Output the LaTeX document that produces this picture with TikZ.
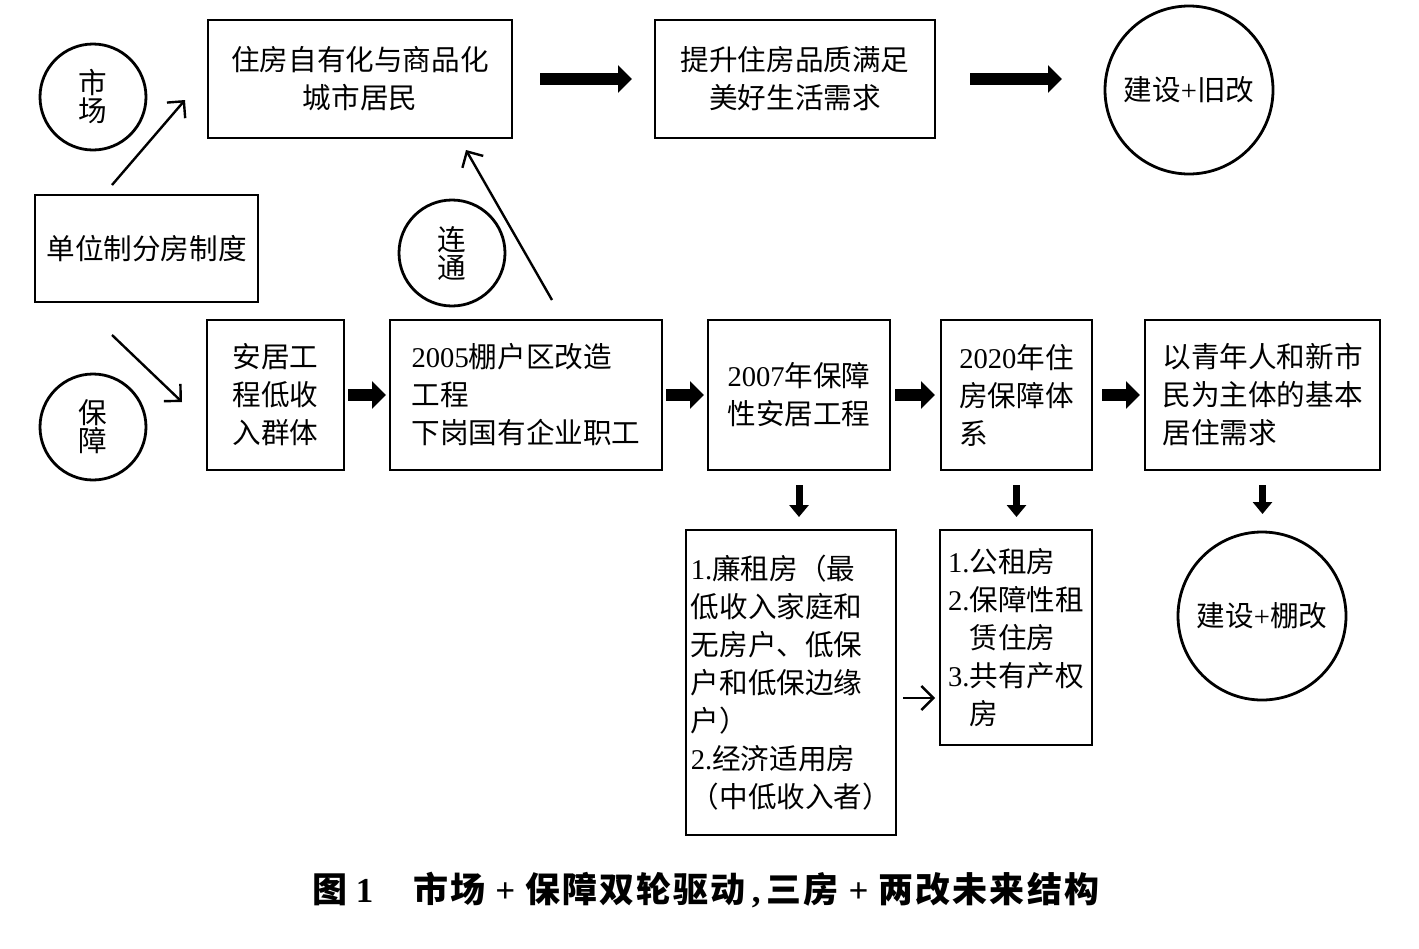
\documentclass[tikz,border=0pt]{standalone}
\usepackage{fontspec}
\setmainfont{Noto Sans CJK SC}
\newfontfamily\numfont{Liberation Serif}
\usepackage{tikz}
\usetikzlibrary{positioning,arrows.meta}

\begin{document}
\begin{tikzpicture}[x=0.5pt,y=-0.5pt]
\tikzset{basic/.style={draw,line width=1.4pt,inner sep=0pt,outer sep=0pt,font=\fontsize{14.3}{19}\selectfont}}
\tikzset{box/.style={basic,rectangle,align=center}}
\tikzset{leftbox/.style={basic,rectangle,align=left}}
\tikzset{round/.style={basic,circle,align=center,font=\fontsize{14.3}{14}\selectfont}}
\tikzset{bigarrow/.style={line width=6pt,-{Triangle[length=7pt,width=13.5pt]}}}
\tikzset{downarrow/.style={line width=3.5pt,-{Triangle[length=6pt,width=9.5pt]}}}
\tikzset{thinarrow/.style={line width=1.2pt,-{Straight Barb[length=6pt,width=12pt]}}}
	\useasboundingbox (0,0) rectangle (1419,948);
	% top row
	\node[box,minimum width=152pt,minimum height=59pt] (own) at (360,79) {住房自有化与商品化\\城市居民};
	\node[box,minimum width=140pt,minimum height=59pt,right=71.5pt of own] (better) {提升住房品质满足\\美好生活需求};
	\node[round,minimum size=84pt] (jiu) at (1189,90) {建设{\numfont +}旧改};
		\path[draw,bigarrow,shorten <=14pt,shorten >=11.5pt] (own) -- (better);
		\path[draw,bigarrow,shorten <=17.5pt,shorten >=21.5pt] (better.east) -- (better.east -| jiu.west);
	\node[round,minimum size=53pt] (market) at (93,97) {市\\场};
	\node[box,minimum width=111.5pt,minimum height=53.5pt] (unit) at (146.5,248.5) {单位制分房制度};
	\node[round,minimum size=53pt] (guard) at (93,427) {保\\障};
	\node[round,minimum size=53pt] (link) at (452,253) {连\\通};
	% second row
	\node[box,minimum width=68.5pt,minimum height=75pt] (anju) at (275.5,395) {安居工\\程低收\\入群体};
	\node[leftbox,minimum width=136pt,minimum height=75pt,right=23pt of anju] (p2005) {{\numfont 2005}棚户区改造\\工程\\下岗国有企业职工};
	\node[box,minimum width=91pt,minimum height=75pt,right=23pt of p2005] (p2007) {{\numfont 2007}年保障\\性安居工程};
	\node[leftbox,minimum width=75.5pt,minimum height=75pt,right=25.5pt of p2007] (p2020) {{\numfont 2020}年住\\房保障体\\系};
	\node[leftbox,minimum width=117.5pt,minimum height=75pt,right=26.5pt of p2020] (youth) {以青年人和新市\\民为主体的基本\\居住需求};
		\path[draw,bigarrow,shorten <=2pt,shorten >=2pt] (anju) -- (p2005);
		\path[draw,bigarrow,shorten <=2pt,shorten >=2pt] (p2005) -- (p2007);
		\path[draw,bigarrow,shorten <=2.5pt,shorten >=3pt] (p2007) -- (p2020);
		\path[draw,bigarrow,shorten <=5pt,shorten >=2.5pt] (p2020) -- (youth);
		\path[draw,thinarrow] ([shift={(-17.25pt,5pt)}]unit.north) -- ([shift={(-11.5pt,-10.5pt)}]own.west);
		\path[draw,thinarrow] ([shift={(-17.25pt,-16.5pt)}]unit.south) -- ([shift={(-12.5pt,-3.5pt)}]anju.west);
		\path[draw,thinarrow] ([shift={(13pt,10pt)}]p2005.north) -- ([shift={(53pt,-6pt)}]own.south);
	% third row
	\node[leftbox,minimum width=105pt,minimum height=152.5pt] (lianzu) at (791,682.5) {{\numfont 1.}廉租房（最\\低收入家庭和\\无房户、低保\\户和低保边缘\\户）\\{\numfont 2.}经济适用房\\（中低收入者）};
	\node[leftbox,minimum width=76pt,minimum height=107.5pt] (gongzu) at (1016,637.5) {{\numfont 1.}公租房\\{\numfont 2.}保障性租\\\phantom{\numfont 2.}赁住房\\{\numfont 3.}共有产权\\\phantom{\numfont 3.}房};
	\node[round,minimum size=84pt] (peng) at (1262,616) {建设{\numfont +}棚改};
		\path[draw,downarrow,shorten <=7.5pt,shorten >=6.5pt] (p2007.south) -- (p2007.south |- lianzu.north);
		\path[draw,downarrow,shorten <=7.5pt,shorten >=6.5pt] (p2020.south) -- (p2020.south |- gongzu.north);
		\path[draw,downarrow,shorten <=7.5pt,shorten >=9pt] (youth.south) -- (youth.south |- peng.north);
	\coordinate (lz) at ([yshift=-7.75pt]lianzu.east);
		\path[draw,thinarrow,shorten <=3.5pt,shorten >=2.5pt] (lz) -- (lz -| gongzu.west);
	\node[font=\fontsize{17.5}{20}\selectfont\bfseries\addfontfeature{LetterSpace=6}] (caption) at (706,890) {图\hspace{4pt}{\numfont 1}\hspace{20pt}市场\hspace{5pt}{\numfont +}\hspace{5pt}保障双轮驱动\hspace{3pt}{\numfont ,}\hspace{3pt}三房\hspace{5pt}{\numfont +}\hspace{5pt}两改未来结构};
\end{tikzpicture}
\end{document}
